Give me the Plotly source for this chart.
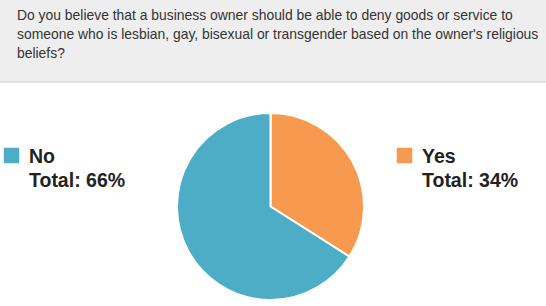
import plotly.graph_objects as go

W, H = 546, 306

question_lines = [
    "Do you believe that a business owner should be able to deny goods or service to",
    "someone who is lesbian, gay, bisexual or transgender based on the owner's religious",
    "beliefs?",
]
categories = ["Yes", "No"]
values = [34, 66]
colors = ["#f79a4f", "#4eadc6"]

fig = go.Figure()
fig.add_trace(go.Pie(
    labels=categories,
    values=values,
    sort=False,
    direction="clockwise",
    rotation=0,
    marker=dict(colors=colors, line=dict(color="white", width=2)),
    textinfo="none",
    hoverinfo="label+percent",
    showlegend=False,
    domain=dict(x=[177 / W, 364 / W], y=[1 - 300 / H, 1 - 113 / H]),
))

def px_x(x):
    return x / W

def px_y(y):
    return 1 - y / H

shapes = [
    dict(type="rect", xref="paper", yref="paper", x0=0, x1=1, y0=px_y(82), y1=1,
         fillcolor="#eeeeee", line=dict(width=0), layer="below"),
    dict(type="line", xref="paper", yref="paper", x0=0, x1=1, y0=px_y(82), y1=px_y(82),
         line=dict(color="#d9d9d9", width=1.5)),
]
annotations = []
for i, line in enumerate(question_lines):
    annotations.append(dict(
        text=line, xref="paper", yref="paper", x=px_x(15), y=px_y(15 + 19 * i),
        xanchor="left", yanchor="middle", showarrow=False, align="left",
        font=dict(family="Liberation Sans, Arial, sans-serif", size=13.9, color="#333333"),
    ))

legend_pos = {"No": 4, "Yes": 397}
for cat, val, col in zip(categories, values, colors):
    x0 = legend_pos[cat]
    shapes.append(dict(type="rect", xref="paper", yref="paper",
                       x0=px_x(x0), x1=px_x(x0 + 15), y0=px_y(163), y1=px_y(148),
                       fillcolor=col, line=dict(color=col, width=0.5)))
    for txt, yc in [(cat, 156), (f"Total: {val}%", 180)]:
        annotations.append(dict(
            text=f"<b>{txt}</b>", xref="paper", yref="paper", x=px_x(x0 + 23), y=px_y(yc),
            xanchor="left", yanchor="middle", showarrow=False,
            font=dict(family="Liberation Sans, Arial, sans-serif", size=19.5, color="#222222"),
        ))

fig.update_layout(
    width=W, height=H,
    margin=dict(l=0, r=0, t=0, b=0),
    paper_bgcolor="white", plot_bgcolor="white",
    shapes=shapes, annotations=annotations,
)
fig.write_html("out.html", config={"displayModeBar": False})
